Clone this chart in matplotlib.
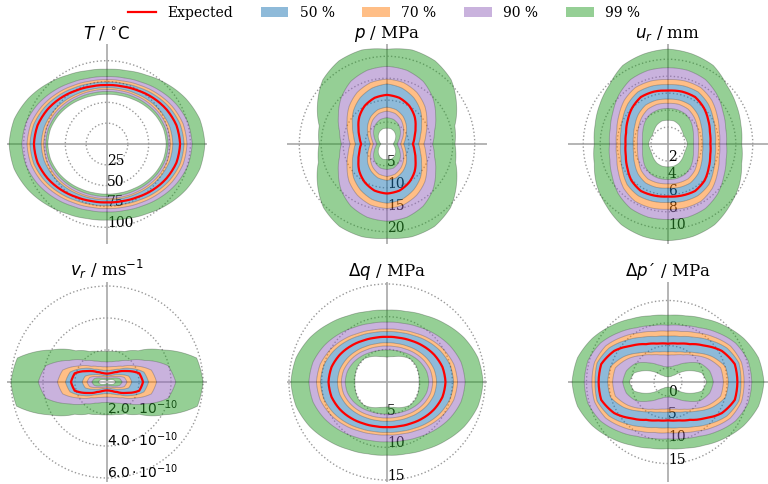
import numpy as np
import matplotlib.pyplot as plt
from matplotlib.path import Path
from matplotlib.patches import PathPatch, Patch
from matplotlib.lines import Line2D

plt.rcParams['font.family'] = 'DejaVu Serif'
plt.rcParams['mathtext.fontset'] = 'dejavusans'

# right half of each contour, from the bottom (-90 deg) to the top (+90 deg),
# every 15 degrees; the left half is the mirror image
half_deg = np.arange(-90, 91, 15)

# temperature, degC
T_lo99 = [60.0, 60.6, 62.2, 64.8, 67.7, 70.1, 71.0, 70.1, 67.6, 64.6, 61.9, 60.2, 59.6]
T_lo90 = [63.0, 63.5, 65.1, 67.6, 70.4, 72.7, 73.5, 72.7, 70.4, 67.6, 65.1, 63.5, 63.0]
T_lo70 = [65.5, 66.0, 67.6, 70.1, 72.9, 75.2, 76.0, 75.2, 72.9, 70.1, 67.6, 66.0, 65.5]
T_lo50 = [67.0, 67.6, 69.4, 72.3, 75.4, 78.0, 79.0, 78.1, 75.6, 72.6, 69.8, 68.1, 67.5]
T_exp = [70.0, 70.9, 73.5, 77.8, 82.4, 86.3, 87.7, 86.3, 82.6, 78.2, 74.1, 71.5, 70.7]
T_hi50 = [74.0, 74.9, 77.7, 82.1, 86.9, 91.0, 92.5, 91.0, 87.0, 82.3, 78.0, 75.2, 74.3]
T_hi70 = [77.5, 78.4, 81.2, 85.6, 90.5, 94.5, 96.0, 94.5, 90.4, 85.5, 81.0, 78.1, 77.2]
T_hi90 = [81.5, 82.5, 85.6, 90.6, 96.0, 100.5, 102.2, 100.5, 95.8, 90.2, 85.1, 81.9, 80.8]
T_hi99 = [91.3, 92.6, 96.5, 102.8, 109.6, 115.4, 117.5, 115.3, 109.2, 101.9, 95.3, 91.1, 89.7]

# pore pressure, MPa
p_lo99 = [3.5, 3.6, 3.3, 2.8, 2.2, 1.7, 1.4, 1.7, 2.2, 2.8, 3.3, 3.6, 3.6]
p_lo90 = [5.8, 5.7, 5.1, 4.3, 3.4, 2.7, 2.3, 2.7, 3.4, 4.3, 5.2, 5.8, 6.0]
p_lo70 = [7.4, 7.1, 6.3, 5.3, 4.3, 3.5, 3.1, 3.5, 4.3, 5.3, 6.4, 7.2, 7.5]
p_lo50 = [8.3, 8.0, 7.2, 6.2, 5.1, 4.3, 3.8, 4.3, 5.1, 6.2, 7.3, 8.1, 8.4]
p_exp = [11.3, 11.0, 10.1, 8.9, 7.5, 6.5, 5.9, 6.5, 7.5, 8.9, 10.1, 10.9, 11.2]
p_hi50 = [13.5, 13.1, 12.1, 10.8, 9.1, 7.9, 7.2, 7.9, 9.1, 10.8, 12.2, 13.2, 13.7]
p_hi70 = [14.7, 14.4, 13.5, 12.2, 10.5, 9.2, 8.4, 9.2, 10.5, 12.2, 13.6, 14.5, 14.8]
p_hi90 = [17.6, 17.3, 16.4, 14.8, 12.8, 11.2, 10.4, 11.2, 12.8, 14.8, 16.5, 17.4, 17.7]
p_hi99 = [21.5, 21.9, 21.7, 20.5, 18.3, 16.2, 15.5, 16.0, 18.3, 20.7, 21.9, 22.2, 21.6]

# radial displacement, mm
u_lo99 = [2.7, 2.7, 2.6, 2.4, 2.2, 2.2, 2.3, 2.2, 2.1, 2.3, 2.6, 2.8, 2.8]
u_lo90 = [4.2, 4.2, 4.1, 3.8, 3.4, 3.1, 3.0, 3.1, 3.4, 3.8, 4.1, 4.2, 4.2]
u_lo70 = [4.7, 4.75, 4.75, 4.45, 4.0, 3.7, 3.6, 3.7, 4.0, 4.4, 4.75, 4.85, 4.8]
u_lo50 = [5.2, 5.3, 5.3, 5.0, 4.55, 4.2, 4.1, 4.2, 4.5, 4.95, 5.3, 5.35, 5.3]
u_exp = [6.2, 6.3, 6.4, 6.1, 5.55, 5.15, 5.0, 5.12, 5.5, 6.0, 6.4, 6.4, 6.3]
u_hi50 = [6.9, 7.0, 7.05, 6.8, 6.2, 5.75, 5.6, 5.75, 6.15, 6.7, 7.1, 7.1, 7.0]
u_hi70 = [7.7, 7.8, 7.8, 7.4, 6.75, 6.25, 6.1, 6.25, 6.7, 7.3, 7.7, 7.7, 7.6]
u_hi90 = [8.9, 8.95, 8.8, 8.3, 7.6, 7.1, 6.9, 7.05, 7.5, 8.2, 8.8, 9.0, 9.0]
u_hi99 = [11.4, 11.3, 11.0, 10.3, 9.7, 9.0, 8.7, 8.9, 9.3, 9.8, 10.7, 11.0, 11.2]

# radial velocity, 1e-10 m/s
vr_lo99 = [0.10, 0.11, 0.13, 0.18, 0.30, 0.45, 0.55, 0.45, 0.30, 0.18, 0.13, 0.11, 0.10]
vr_lo90 = [0.20, 0.21, 0.26, 0.33, 0.50, 0.82, 0.95, 0.82, 0.50, 0.33, 0.26, 0.21, 0.20]
vr_lo70 = [0.30, 0.31, 0.37, 0.48, 0.68, 1.12, 1.25, 1.12, 0.68, 0.48, 0.37, 0.31, 0.30]
vr_lo50 = [0.37, 0.39, 0.46, 0.62, 0.90, 1.41, 1.55, 1.41, 0.90, 0.62, 0.46, 0.39, 0.37]
vr_exp = [0.52, 0.55, 0.65, 0.88, 1.36, 2.09, 2.25, 2.09, 1.36, 0.88, 0.65, 0.55, 0.52]
vr_hi50 = [0.73, 0.75, 0.88, 1.13, 1.70, 2.39, 2.60, 2.39, 1.70, 1.13, 0.88, 0.75, 0.73]
vr_hi70 = [0.94, 0.98, 1.11, 1.39, 2.00, 2.87, 3.10, 2.87, 2.00, 1.39, 1.11, 0.98, 0.94]
vr_hi90 = [1.27, 1.33, 1.52, 1.92, 2.72, 3.95, 4.30, 3.95, 2.70, 1.90, 1.50, 1.31, 1.25]
vr_hi99 = [2.05, 2.10, 2.30, 2.85, 4.10, 5.85, 6.00, 5.80, 4.00, 2.76, 2.20, 1.97, 1.90]

# deviatoric stress change, MPa
dq_lo99 = [3.8, 4.0, 4.5, 5.0, 5.1, 5.0, 4.9, 5.0, 5.1, 5.0, 4.5, 4.0, 3.8]
dq_lo90 = [4.9, 4.98, 5.2, 5.56, 5.95, 6.28, 6.4, 6.28, 5.95, 5.56, 5.2, 4.98, 4.9]
dq_lo70 = [5.5, 5.58, 5.8, 6.16, 6.55, 6.88, 7.0, 6.88, 6.55, 6.16, 5.8, 5.58, 5.5]
dq_lo50 = [6.0, 6.08, 6.32, 6.7, 7.12, 7.47, 7.6, 7.47, 7.12, 6.7, 6.32, 6.08, 6.0]
dq_exp = [6.9, 7.0, 7.31, 7.8, 8.34, 8.79, 8.95, 8.79, 8.34, 7.8, 7.31, 7.0, 6.9]
dq_hi50 = [7.7, 7.83, 8.2, 8.8, 9.45, 10.0, 10.2, 10.0, 9.45, 8.8, 8.2, 7.83, 7.7]
dq_hi70 = [8.1, 8.24, 8.64, 9.29, 9.99, 10.58, 10.8, 10.58, 9.99, 9.29, 8.64, 8.24, 8.1]
dq_hi90 = [9.15, 9.29, 9.71, 10.38, 11.11, 11.73, 11.95, 11.73, 11.11, 10.38, 9.71, 9.29, 9.15]
dq_hi99 = [11.2, 11.38, 11.9, 12.7, 13.65, 14.4, 14.7, 14.4, 13.6, 12.6, 11.74, 11.18, 11.0]

# effective mean stress change, MPa
dp_lo99 = [-1.99, -1.9, -1.68, -0.92, 1.86, 4.66, 5.5, 4.66, 1.86, -0.92, -1.68, -1.9, -1.99]
dp_lo90 = [0.23, 0.43, 1.26, 2.88, 5.19, 6.47, 6.97, 6.47, 5.19, 2.88, 1.26, 0.43, 0.23]
dp_lo70 = [2.85, 3.1, 3.85, 5.2, 7.2, 9.0, 9.2, 9.0, 7.2, 5.2, 3.85, 3.1, 2.85]
dp_lo50 = [3.57, 3.8, 4.5, 6.0, 8.2, 10.1, 10.3, 10.1, 8.2, 6.0, 4.5, 3.8, 3.57]
dp_exp = [5.4, 5.7, 6.6, 8.3, 10.7, 12.25, 12.3, 12.25, 10.7, 8.3, 6.6, 5.7, 5.4]
dp_hi50 = [7.06, 7.35, 8.35, 10.0, 12.0, 13.2, 13.1, 13.2, 12.0, 10.0, 8.35, 7.35, 7.06]
dp_hi70 = [8.17, 8.5, 9.5, 11.1, 12.9, 13.8, 13.8, 13.8, 12.9, 11.1, 9.5, 8.5, 8.17]
dp_hi90 = [9.5, 9.85, 10.8, 12.4, 14.2, 15.3, 15.5, 15.3, 14.2, 12.4, 10.8, 9.85, 9.5]
dp_hi99 = [11.7, 12.1, 13.1, 14.6, 16.3, 17.7, 18.2, 17.7, 16.3, 14.6, 13.1, 12.1, 11.7]

titles = [r'$T\ /\ ^{\circ}\mathrm{C}$', r'$p$ / MPa', r'$u_r$ / mm',
          r'$v_r$ / ms$^{-1}$', r'$\Delta q$ / MPa', r'$\Delta p$´ / MPa']
r_ticks = [[25, 50, 75, 100], [5, 10, 15, 20], [2, 4, 6, 8, 10],
           [2e-10, 4e-10, 6e-10], [5, 10, 15], [0, 5, 10, 15]]
r_ticklabels = [['25', '50', '75', '100'], ['5', '10', '15', '20'],
                ['2', '4', '6', '8', '10'],
                [r'$2.0\cdot10^{-10}$', r'$4.0\cdot10^{-10}$', r'$6.0\cdot10^{-10}$'],
                ['5', '10', '15'], ['0', '5', '10', '15']]
r_limits = [(0, 120), (0, 22.8), (0, 11.8), (0, 6.25e-10), (0, 15.3), (-3.1, 19.1)]
r_scale = [1, 1, 1, 1e-10, 1, 1]

series = [
    [T_lo99, T_lo90, T_lo70, T_lo50, T_exp, T_hi50, T_hi70, T_hi90, T_hi99],
    [p_lo99, p_lo90, p_lo70, p_lo50, p_exp, p_hi50, p_hi70, p_hi90, p_hi99],
    [u_lo99, u_lo90, u_lo70, u_lo50, u_exp, u_hi50, u_hi70, u_hi90, u_hi99],
    [vr_lo99, vr_lo90, vr_lo70, vr_lo50, vr_exp, vr_hi50, vr_hi70, vr_hi90, vr_hi99],
    [dq_lo99, dq_lo90, dq_lo70, dq_lo50, dq_exp, dq_hi50, dq_hi70, dq_hi90, dq_hi99],
    [dp_lo99, dp_lo90, dp_lo70, dp_lo50, dp_exp, dp_hi50, dp_hi70, dp_hi90, dp_hi99],
]

c50, c70, c90, c99 = '#1f77b4', '#ff7f0e', '#9467bd', '#2ca02c'

theta = np.deg2rad(np.concatenate([half_deg, 180 - half_deg[-2::-1]]))


def full_circle(half, scale):
    half = list(half)
    return np.array(half + half[-2::-1]) * scale


def ring(ax, inner, outer, color):
    verts = np.concatenate([np.column_stack([theta, outer]),
                            np.column_stack([theta[::-1], inner[::-1]])])
    verts = np.vstack([verts, verts[:1]])
    path = Path(verts).interpolated(12)
    ax.add_patch(PathPatch(path, facecolor=color, alpha=0.5,
                           edgecolor='none', zorder=3))


def outline(ax, r, **kw):
    path = Path(np.column_stack([theta, r])).interpolated(12)
    ax.add_patch(PathPatch(path, fill=False, **kw))


fig = plt.figure(figsize=(7.68, 4.84), dpi=100)
w, h = 200 / 768, 200 / 484
lefts = [7 / 768, 287 / 768, 568 / 768]
bottoms = [240 / 484, 2 / 484]

for i in range(6):
    ax = fig.add_axes([lefts[i % 3], bottoms[i // 3], w, h], projection='polar')
    curves = [full_circle(s, r_scale[i]) for s in series[i]]
    lo99, lo90, lo70, lo50, exp, hi50, hi70, hi90, hi99 = curves

    ring(ax, lo99, lo90, c99)
    ring(ax, lo90, lo70, c90)
    ring(ax, lo70, lo50, c70)
    ring(ax, lo50, hi50, c50)
    ring(ax, hi50, hi70, c70)
    ring(ax, hi70, hi90, c90)
    ring(ax, hi90, hi99, c99)
    for c in [lo99, lo90, lo70, lo50, hi50, hi70, hi90, hi99]:
        outline(ax, c, edgecolor='k', alpha=0.25, lw=0.6, zorder=3.2)
    outline(ax, exp, edgecolor='red', lw=1.6, zorder=4)

    ax.set_ylim(*r_limits[i])
    ax.set_xticks(np.deg2rad([0, 90, 180, 270]))
    ax.set_xticklabels([])
    ax.set_yticks(r_ticks[i])
    ax.set_yticklabels([])
    ax.xaxis.grid(True, color='#a8a8a8', lw=1.2, ls='-')
    ax.yaxis.grid(True, color='#999999', lw=1.0, ls=':')
    ax.spines['polar'].set_visible(False)

    # radial labels sit under the bands, along the downward axis
    for r, lab in zip(r_ticks[i], r_ticklabels[i]):
        ax.text(np.deg2rad(270), r, lab, ha='left', va='baseline',
                fontsize=10, zorder=2)

    ax.set_title(titles[i], fontsize=12, pad=4)

handles = [Line2D([], [], color='red', lw=1.6, label='Expected'),
           Patch(facecolor=c50, alpha=0.5, label='50 %'),
           Patch(facecolor=c70, alpha=0.5, label='70 %'),
           Patch(facecolor=c90, alpha=0.5, label='90 %'),
           Patch(facecolor=c99, alpha=0.5, label='99 %')]
fig.legend(handles=handles, loc='center', bbox_to_anchor=(0.5, 1 - 13 / 484),
           ncol=5, frameon=False, fontsize=10)

fig.savefig('out.png', dpi=100)
